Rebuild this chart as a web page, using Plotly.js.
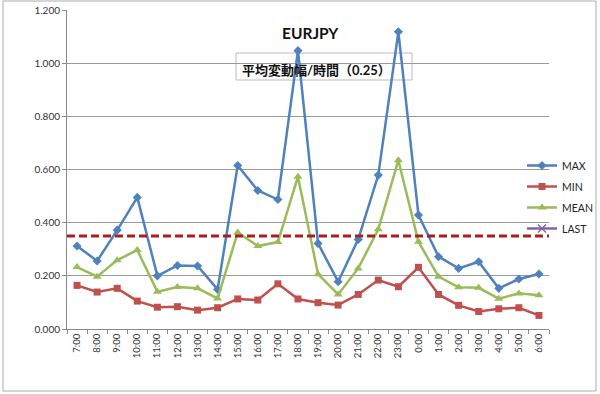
<!DOCTYPE html>
<html><head><meta charset="utf-8">
<script src="https://cdn.plot.ly/plotly-3.0.1.min.js"></script>
<style>html,body{margin:0;padding:0;background:#fff}#chart{width:600px;height:394px}</style>
</head><body><div id="chart"></div>
<script>
const hours = ["7:00","8:00","9:00","10:00","11:00","12:00","13:00","14:00","15:00","16:00","17:00","18:00","19:00","20:00","21:00","22:00","23:00","0:00","1:00","2:00","3:00","4:00","5:00","6:00"];
const maxVals  = [0.312,0.256,0.372,0.495,0.200,0.239,0.237,0.149,0.615,0.521,0.487,1.047,0.322,0.178,0.337,0.579,1.118,0.429,0.272,0.228,0.253,0.153,0.188,0.207];
const minVals  = [0.164,0.139,0.153,0.105,0.082,0.084,0.071,0.080,0.113,0.109,0.170,0.113,0.099,0.090,0.130,0.184,0.159,0.232,0.130,0.089,0.066,0.076,0.080,0.051];
const meanVals = [0.233,0.197,0.259,0.297,0.140,0.158,0.153,0.115,0.363,0.312,0.327,0.573,0.206,0.130,0.228,0.375,0.635,0.328,0.197,0.157,0.155,0.114,0.134,0.127];
const lastVals = [null];
const threshold = 0.35;
const chartTitle = "EURJPY";
const subTitle = "平均変動幅/時間（0.25）";

const font = "Lato, 'Noto Sans CJK JP', sans-serif";
function series(name, y, color, symbol, size) {
  return {type:"scatter", mode:"lines+markers", name:name, legendgroup:name, x: hours.slice(0, y.length), y:y,
    line:{color:color, width:2.5}, marker:{symbol:symbol, size:size, color:color}};
}
const data = [
  series("MAX", maxVals, "#4F81BD", "diamond", 7),
  series("MIN", minVals, "#C0504D", "square", 7),
  series("MEAN", meanVals, "#9BBB59", "triangle-up", 8),
  series("LAST", lastVals, "#8064A2", "x-thin", 8)
];
data[3].marker.line = {color:"#8064A2", width:1.5};
const layout = {
  width:600, height:394,
  margin:{l:67, r:51, t:10, b:65, autoexpand:false},
  paper_bgcolor:"#fff", plot_bgcolor:"#fff",
  font:{family:font, size:10, color:"#333"},
  showlegend:true,
  legend:{x:(522-67)/482, xanchor:"left", y:(329-151)/319, yanchor:"top", font:{size:10.5, color:"#222"},
    bgcolor:"rgba(0,0,0,0)", tracegroupgap:2, traceorder:"grouped", itemwidth:30},
  xaxis:{type:"category", categoryorder:"array", categoryarray:hours, range:[-0.5,23.5],
    showgrid:false, showline:true, linecolor:"#888", linewidth:1,
    ticks:"outside", ticklen:4, tickcolor:"#888", tickson:"boundaries",
    tickangle:-90, tickfont:{size:9.5, color:"#333"}, fixedrange:true},
  yaxis:{range:[0,1.2], dtick:0.2, tickformat:".3f", showgrid:true, gridcolor:"#999", gridwidth:1,
    showline:true, linecolor:"#888", ticks:"outside", ticklen:4, tickcolor:"#888",
    tickfont:{size:10, color:"#333"}, zeroline:false, fixedrange:true},
  shapes:[
    {type:"line", xref:"paper", x0:0, x1:1, yref:"y", y0:threshold, y1:threshold,
     line:{color:"#A81E1E", width:3, dash:"8px,4px"}},
    {type:"rect", xref:"paper", yref:"paper", x0:(236-67)/482, x1:(412-67)/482, y0:(329-80)/319, y1:(329-53)/319,
     line:{color:"#bbb", width:1}, fillcolor:"#fff", layer:"below"},
    {type:"rect", xref:"paper", yref:"paper", x0:(3-67)/482, x1:(596-67)/482, y0:(329-391)/319, y1:(329-1)/319,
     line:{color:"#aaa", width:1}}
  ],
  annotations:[
    {xref:"paper", yref:"paper", x:(310-67)/482, y:(329-33)/319, xanchor:"center", yanchor:"middle",
     text:"<b>"+chartTitle+"</b>", showarrow:false, font:{size:15.5, color:"#111", family:font}},
    {xref:"paper", yref:"paper", x:(316-67)/482, y:(329-70)/319, xanchor:"center", yanchor:"middle",
     text:"<b>"+subTitle+"</b>", showarrow:false, font:{size:13, color:"#111", family:font}}
  ]
};
Plotly.newPlot("chart", data, layout, {displayModeBar:false, staticPlot:true});
</script></body></html>
